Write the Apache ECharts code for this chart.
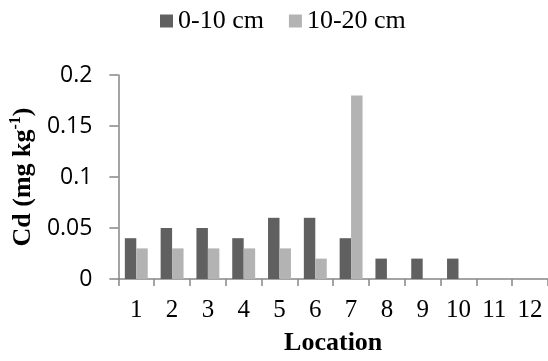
<!DOCTYPE html>
<html><head><meta charset="utf-8">
<script src="https://cdn.jsdelivr.net/npm/echarts@6/dist/echarts.min.js"></script>
<style>html,body{margin:0;padding:0;background:#fff}#c{width:548px;height:361px}</style>
</head><body><div id="c"></div>
<script>
const categories = ['1','2','3','4','5','6','7','8','9','10','11','12'];
const seriesNames = ['0-10 cm','10-20 cm'];
const depth0_10 = [0.04,0.05,0.05,0.04,0.06,0.06,0.04,0.02,0.02,0.02,0,0];
const depth10_20 = [0.03,0.03,0.03,0.03,0.03,0.02,0.18,0,0,0,0,0];
const yTicks = [0,0.05,0.1,0.15,0.2];

const chart = echarts.init(document.getElementById('c'), null, {renderer:'canvas'});
const serif = 'Liberation Serif, Times New Roman, serif';
const sans = 'Open Sans, Liberation Sans, Arial, sans-serif';
const axisColor = '#868686';
chart.setOption({
  animation:false,
  backgroundColor:'#fff',
  legend:{
    left:160, top:8, padding:0, itemWidth:13, itemHeight:13, itemGap:25, icon:'rect',
    textStyle:{fontFamily:serif, fontSize:26, color:'#000'},
    data:seriesNames
  },
  grid:{left:118, top:75, width:438, height:206, containLabel:false},
  xAxis:{
    type:'category', data:categories, boundaryGap:true,
    name:'Location', nameLocation:'middle', nameGap:51,
    nameTextStyle:{fontFamily:serif, fontSize:26, fontWeight:'bold', color:'#000'},
    axisLine:{lineStyle:{color:axisColor, width:1.5}},
    axisTick:{show:true, length:7, alignWithLabel:false, lineStyle:{color:axisColor, width:1.5}},
    axisLabel:{fontFamily:serif, fontSize:25, color:'#000', margin:19, interval:0}
  },
  yAxis:{
    type:'value', min:yTicks[0], max:yTicks[yTicks.length-1], interval:0.05,
    name:'{a|Cd (mg kg}{s|-1}{a|)}', nameLocation:'middle', nameGap:80, nameRotate:90,
    nameTextStyle:{
      rich:{
        a:{fontFamily:serif, fontSize:26, fontWeight:'bold', color:'#000', lineHeight:30},
        s:{fontFamily:serif, fontSize:16, fontWeight:'bold', color:'#000', verticalAlign:'top', lineHeight:18}
      }
    },
    splitLine:{show:false},
    axisLine:{show:true, lineStyle:{color:axisColor, width:1.5}},
    axisTick:{show:true, length:9, lineStyle:{color:axisColor, width:1.5}},
    axisLabel:{fontFamily:sans, fontSize:23, color:'#000', margin:26,
      formatter:function(v){return String(+v.toFixed(2));}}
  },
  series:[
    {name:seriesNames[0], type:'bar', data:depth0_10, barGap:'0%', barCategoryGap:'36%', itemStyle:{color:'#606060'}},
    {name:seriesNames[1], type:'bar', data:depth10_20, barGap:'0%', barCategoryGap:'36%', itemStyle:{color:'#b3b3b3'}}
  ]
});
</script></body></html>
